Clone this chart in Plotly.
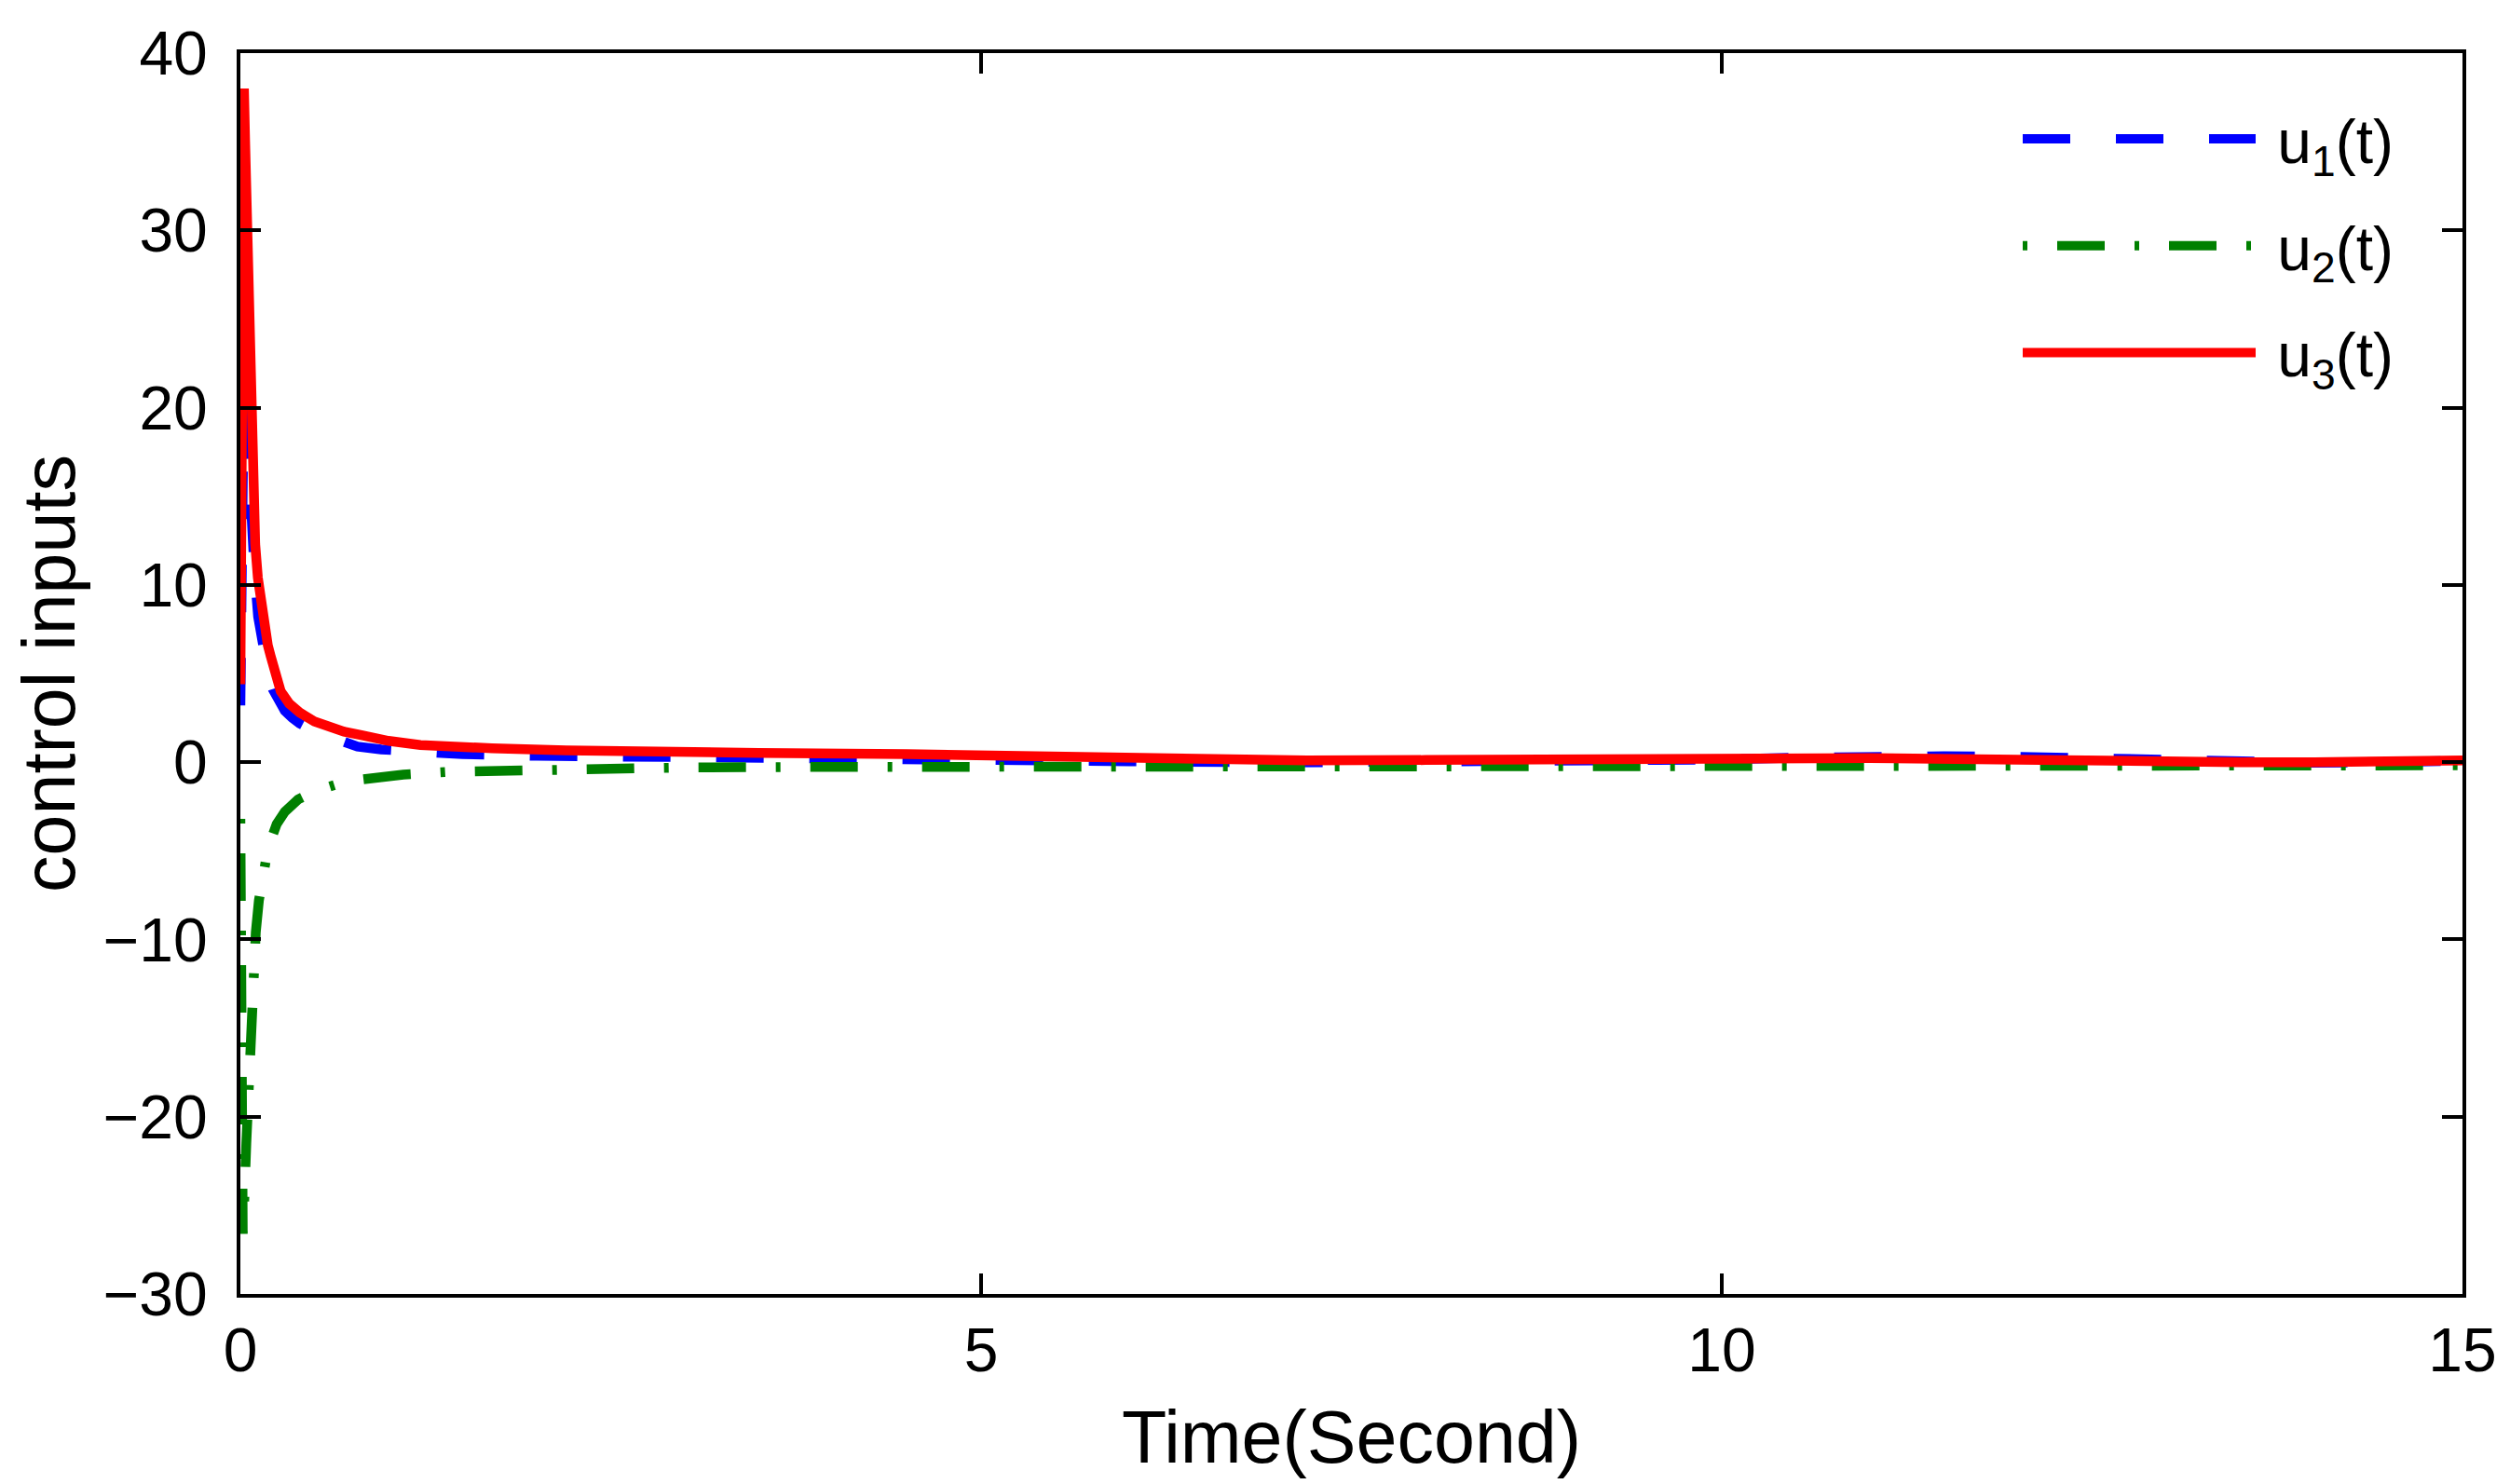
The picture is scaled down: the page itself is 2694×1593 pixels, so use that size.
import plotly.graph_objects as go

# u1(t) - dashed blue
t_u1 = [0, 0.008, 0.016, 0.024, 0.035, 0.05, 0.07, 0.095, 0.12, 0.16, 0.19, 0.22, 0.26, 0.3,
        0.35, 0.4, 0.5, 0.607, 0.7, 0.79, 0.95, 1.1, 1.3, 1.5, 2.0, 2.8, 4.0, 5.0, 6.0, 7.0,
        8.0, 9.0, 10.0, 10.5, 11.0, 11.5, 12.0, 12.5, 13.0, 13.5, 14.0, 14.5, 15.0]
u1 = [3.2, 8, 17, 22, 21, 18, 14, 10.8, 8.2, 6.0, 4.9, 4.1, 3.4, 2.9,
      2.5, 2.18, 1.75, 1.4, 1.1, 0.88, 0.72, 0.62, 0.52, 0.45, 0.36, 0.32, 0.28, 0.2, 0.05, -0.02,
      0.0, 0.05, 0.15, 0.25, 0.32, 0.33, 0.3, 0.22, 0.1, 0.0, -0.03, 0.0, 0.08]

# u2(t) - dash-dot green
t_u2 = [0, 0.008, 0.016, 0.025, 0.04, 0.057, 0.083, 0.104, 0.125, 0.15, 0.177, 0.21, 0.245,
        0.3, 0.35, 0.39, 0.5, 0.58, 0.67, 0.78, 0.89, 1.1, 1.4, 1.63, 2.0, 2.55, 3.0, 4.0, 5.0,
        6.0, 8.0, 10.0, 12.0, 15.0]
u2 = [-3.2, -15, -26.6, -25, -21.5, -18, -12.7, -9.6, -7.8, -6.4, -5.3, -4.3, -3.5,
      -2.8, -2.4, -2.1, -1.65, -1.4, -1.2, -1.02, -0.88, -0.7, -0.55, -0.5, -0.45, -0.36, -0.3, -0.27, -0.25,
      -0.24, -0.22, -0.2, -0.2, -0.18]

# u3(t) - solid red
t_u3 = [0, 0.008, 0.016, 0.024, 0.032, 0.042, 0.055, 0.067, 0.084, 0.1, 0.118, 0.142, 0.167,
        0.185, 0.204, 0.235, 0.272, 0.33, 0.4, 0.5, 0.607, 0.7, 0.817, 1.0, 1.215, 1.45, 1.7,
        2.2, 2.76, 3.5, 4.5, 5.5, 6.5, 7.2, 8.0, 9.0, 10.0, 11.0, 12.0, 12.5, 13.0, 13.5, 14.0,
        14.5, 15.0]
u3 = [4.4, 24, 36.5, 38, 35, 31.3, 26, 20.7, 15.4, 12.3, 10.4, 8.7, 7.4,
      6.6, 6.0, 4.9, 4.0, 3.3, 2.8, 2.3, 1.96, 1.72, 1.52, 1.2, 0.97, 0.86, 0.78,
      0.66, 0.56, 0.52, 0.45, 0.3, 0.15, 0.1, 0.12, 0.2, 0.25, 0.23, 0.14, 0.07, 0.02, 0.0, 0.0,
      0.05, 0.1]

x_ticks = [0, 5, 10, 15]
y_ticks = [-30, -20, -10, 0, 10, 20, 30, 40]

FONT = "Liberation Sans, Arial, Helvetica, sans-serif"
LW = 10.5
NBSP = "\u00a0"  # small gap between legend line and its label

fig = go.Figure()
fig.add_trace(go.Scatter(x=t_u1, y=u1, mode="lines", name=NBSP + "u<sub>1</sub>(t)", legendgroup="a",
                         line=dict(color="#0000ff", width=LW, dash="51px,49px")))
fig.add_trace(go.Scatter(x=t_u2, y=u2, mode="lines", name=NBSP + "u<sub>2</sub>(t)", legendgroup="b",
                         line=dict(color="#008000", width=LW, dash="5px,32px,51px,32px")))
fig.add_trace(go.Scatter(x=t_u3, y=u3, mode="lines", name=NBSP + "u<sub>3</sub>(t)", legendgroup="c",
                         line=dict(color="#ff0000", width=LW)))

axis_style = dict(showline=True, linewidth=4, linecolor="black", mirror="allticks",
                  ticks="inside", ticklen=22, tickwidth=4, tickcolor="black",
                  showgrid=False, zeroline=False, tickfont=dict(size=66, color="black"))

fig.update_xaxes(range=[0, 15], tickvals=x_ticks, title=dict(text="Time(Second)", standoff=30),
                 **axis_style)
fig.update_yaxes(range=[-30, 40], tickvals=y_ticks, ticklabelstandoff=18,
                 title=dict(text="control inputs", standoff=34), **axis_style)

# the page adds an 8px body margin, so the figure is 8px smaller than the window
fig.update_layout(
    width=2686, height=1585,
    margin=dict(l=250, r=51, t=39, b=204),
    font=dict(family=FONT, size=66, color="black"),
    plot_bgcolor="white", paper_bgcolor="white",
    legend=dict(x=0.80, y=0.968, xanchor="left", yanchor="top", itemwidth=250,
                bgcolor="rgba(0,0,0,0)", borderwidth=0, tracegroupgap=26,
                font=dict(size=66)),
)

fig.write_html("out.html")
